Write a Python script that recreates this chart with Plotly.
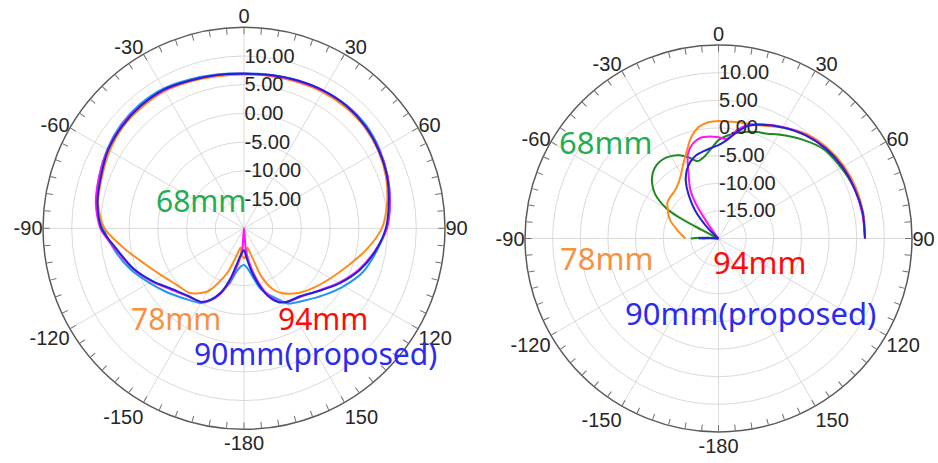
import plotly.graph_objects as go

W, H = 938, 463

# ---------------- data: left pattern ----------------
theta_left = [-180, -175, -170, -165, -160, -155, -150, -140, -130, -120, -110, -100,
              -90, -80, -70, -60, -50, -40, -30, -20, -10, 0, 10, 20, 30, 40, 50, 60,
              70, 80, 90, 100, 110, 120, 130, 140, 150, 155, 160, 165, 170, 175, 180]
left_lightblue = [-13.6, -13.3, -12.3, -10.0, -8.0, -6.1, -5.0, -4.0, -2.6, -1.0, 1.0, 2.8,
                  4.5, 6.0, 6.8, 7.5, 8.0, 8.2, 8.1, 7.6, 7.2, 7.0, 7.1, 7.4, 7.7, 7.9, 7.8, 7.3,
                  6.6, 5.8, 4.8, 3.4, 2.1, 0.1, -1.9, -3.6, -4.9, -6.5, -7.8, -9.2, -11.5, -13.0, -13.6]
left_orange = [-14.8, -15.4, -16.6, -15.2, -12.0, -9.6, -7.3, -5.3, -4.7, -3.5, -1.7, 1.0,
               4.3, 5.8, 6.3, 7.0, 7.5, 7.6, 7.6, 7.2, 6.9, 6.8, 6.9, 7.1, 7.4, 7.5, 7.4, 7.0,
               6.3, 5.3, 4.0, 1.6, -0.8, -2.6, -4.0, -5.3, -7.0, -8.4, -11.0, -15.2, -16.6, -15.4, -14.8]
left_magenta = [-20.0, -16.0, -13.5, -10.5, -7.8, -6.2, -5.2, -4.6, -3.4, -1.5, 0.6, 2.5,
                5.0, 6.2, 6.8, 7.4, 7.8, 7.9, 7.8, 7.4, 7.1, 6.9, 7.0, 7.3, 7.6, 7.8, 7.6, 7.2,
                6.6, 5.8, 4.9, 3.1, 1.2, -1.0, -3.1, -4.5, -5.2, -6.0, -7.6, -10.2, -13.2, -16.0, -20.0]
left_blue = [-16.2, -15.7, -14.3, -11.0, -8.0, -6.3, -5.2, -4.7, -3.6, -1.6, 0.5, 2.3,
             4.8, 5.9, 6.5, 7.3, 7.7, 7.9, 7.9, 7.4, 7.1, 6.9, 7.1, 7.4, 7.7, 7.8, 7.6, 7.1,
             6.5, 5.6, 4.7, 3.2, 1.4, -0.8, -3.0, -4.6, -5.2, -5.8, -7.3, -9.7, -12.4, -14.8, -16.2]

# ---------------- data: right pattern ----------------
theta_r_green = [-90, -88, -85, -80, -75, -70, -65, -63, -62, -60, -55, -50, -45, -40, -35,
                 -30, -25, -20, -15, -10, -5, 0, 5, 10, 15, 20, 25, 30, 40, 50, 60, 70, 80, 90]
right_green = [-15.0, -16.5, -18.5, -20.0, -20.0, -20.0, -19.5, -16.5, -12.2, -9.2, -6.0, -4.3,
               -3.2, -2.6, -2.5, -2.8, -3.4, -4.4, -5.5, -5.0, -3.8, -2.2, -1.3, -0.6, 0.0, 0.5,
               0.9, 1.7, 3.4, 5.0, 5.6, 6.2, 6.5, 6.5]
theta_r_orange = [-90, -85, -80, -75, -70, -65, -60, -55, -50, -45, -40, -35, -30, -25, -20,
                  -15, -10, -5, 0, 10, 20, 30, 40, 50, 60, 70, 80, 90]
right_orange = [-14.0, -13.4, -12.6, -11.8, -10.8, -10.0, -9.4, -8.7, -8.5, -8.4, -8.1, -7.5,
                -6.5, -5.0, -3.2, -1.0, 0.5, 1.1, 1.25, 1.3, 1.8, 3.2, 4.7, 5.6, 6.2, 6.5, 6.6, 6.5]
theta_r_magenta = [-90, -88, -85, -70, -55, -45, -40, -36, -33, -30, -25, -20, -15, -10, -5,
                   0, 5, 10, 15, 20, 30, 40, 50, 60, 70, 80, 90]
right_magenta = [-17.0, -18.5, -20.0, -20.0, -20.0, -20.0, -19.5, -17.0, -12.3, -9.8, -7.2, -3.8,
                 -2.2, -1.5, -1.5, -1.7, -1.9, 0.0, 1.3, 2.0, 3.3, 4.5, 5.4, 5.9, 6.2, 6.4, 6.5]
theta_r_blue = [-90, -88, -85, -70, -55, -50, -45, -40, -35, -30, -25, -20, -15, -10, -5,
                0, 5, 10, 15, 20, 30, 40, 50, 60, 70, 80, 90]
right_blue = [-16.4, -18.0, -20.0, -20.0, -20.0, -19.5, -17.0, -13.5, -10.8, -8.2, -6.4, -5.2,
              -4.4, -4.0, -3.6, -3.1, -2.1, -0.4, 1.1, 1.9, 3.2, 4.4, 5.3, 5.9, 6.2, 6.5, 6.5]

# ---------------- axes ----------------
ang_major = [0, 30, 60, 90, 120, 150, 180, 210, 240, 270, 300, 330]
ang_major_text = ["0", "30", "60", "90", "120", "150", "-180", "-150", "-120", "-90", "-60", "-30"]
ang_minor = list(range(0, 360, 5))
rad_ticks = [-15, -10, -5, 0, 5, 10]
rad_text = ["%.2f" % v for v in rad_ticks]
r_range = [-20, 15]

labels = ["68mm", "78mm", "94mm", "90mm(proposed)"]
label_colors = ["#1fae52", "#f7913f", "#ff0a0a", "#2a2af0"]

C_LIGHTBLUE = "#2196f3"
C_BLUE = "#2323d6"
C_MAGENTA = "#ff14f0"
C_ORANGE = "#ff8c1a"
C_GREEN = "#1e8a1e"

TICKFONT = dict(family="Liberation Sans, Arial, sans-serif", size=20, color="#262626")
GRID = "#dadada"
FRAME = "#5a5a5a"


def px_dom(cx, cy, r):
    return dict(x=[(cx - r) / W, (cx + r) / W], y=[(H - cy - r) / H, (H - cy + r) / H])


def main_polar(dom):
    return dict(
        domain=dom, bgcolor="white",
        angularaxis=dict(rotation=90, direction="clockwise", tickmode="array",
                         tickvals=ang_major, ticktext=ang_major_text, ticks="",
                         showline=False, showgrid=True, gridcolor=GRID, gridwidth=1,
                         tickfont=TICKFONT),
        radialaxis=dict(range=r_range, angle=90, tickangle=90, tickmode="array",
                        tickvals=rad_ticks, ticktext=rad_text, showline=False, ticks="",
                        showgrid=True, gridcolor=GRID, gridwidth=1, tickfont=TICKFONT),
    )


def tick_polar(dom):
    return dict(
        domain=dom, bgcolor="rgba(0,0,0,0)",
        angularaxis=dict(rotation=90, direction="clockwise", tickmode="array",
                         tickvals=ang_minor, ticks="inside", ticklen=6, tickwidth=1,
                         tickcolor="#707070", showticklabels=False, showgrid=False,
                         showline=True, linecolor=FRAME, linewidth=1.5),
        radialaxis=dict(range=r_range, visible=False),
    )


dom_left = px_dom(244, 228.3, 201)
dom_right = px_dom(718.5, 238.5, 193.5)

fig = go.Figure()


def add(theta, r, color, subplot):
    fig.add_trace(go.Scatterpolar(theta=theta, r=r, mode="lines", subplot=subplot,
                                  line=dict(color=color, width=2, shape="spline", smoothing=0.8),
                                  showlegend=False, hoverinfo="skip"))


add(theta_left, left_lightblue, C_LIGHTBLUE, "polar")
add(theta_left, left_orange, C_ORANGE, "polar")
add(theta_left, left_magenta, C_MAGENTA, "polar")
add(theta_left, left_blue, C_BLUE, "polar2")

add(theta_r_green, right_green, C_GREEN, "polar3")
add(theta_r_orange, right_orange, C_ORANGE, "polar3")
add(theta_r_magenta, right_magenta, C_MAGENTA, "polar3")
add(theta_r_blue, right_blue, C_BLUE, "polar4")

fig.update_layout(
    width=W, height=H, margin=dict(l=0, r=0, t=0, b=0),
    paper_bgcolor="white", showlegend=False,
    polar=main_polar(dom_left), polar2=tick_polar(dom_left),
    polar3=main_polar(dom_right), polar4=tick_polar(dom_right),
)

left_pos = [(201, 200), (176, 318), (323, 318), (315, 353)]
right_pos = [(605, 142), (606, 258), (759, 262), (750, 313)]
for pos, size in ((left_pos, 30), (right_pos, 31)):
    for (x, y), txt, col in zip(pos, labels, label_colors):
        fig.add_annotation(x=x / W, y=1 - y / H, xref="paper", yref="paper",
                           text=txt, showarrow=False, xanchor="center", yanchor="middle",
                           font=dict(family="Noto Sans", size=size, color=col))

fig.write_html("out.html", config={"displayModeBar": False},
               post_script="document.body.style.margin='0';document.body.style.overflow='hidden';")
